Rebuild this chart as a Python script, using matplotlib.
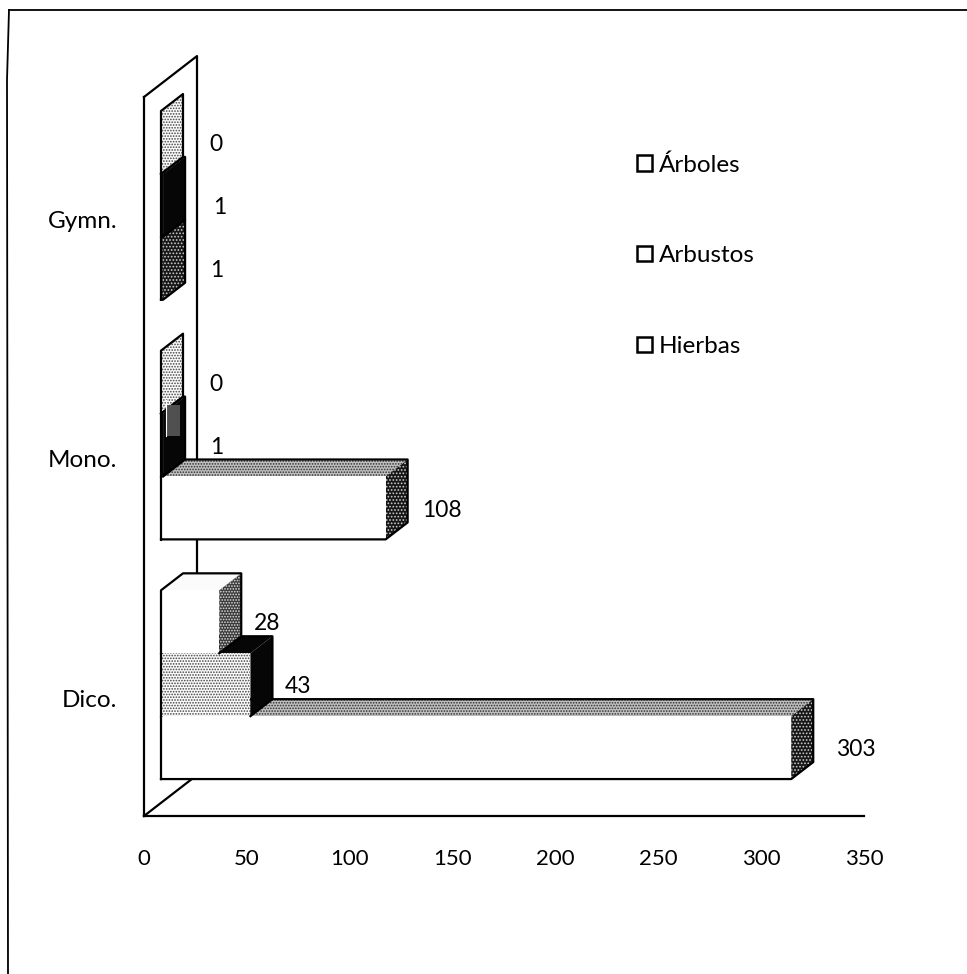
#!/usr/bin/env python3
import matplotlib
matplotlib.use('Agg')
import matplotlib.pyplot as plt
from matplotlib.patches import Polygon, Patch
from matplotlib.lines import Line2D

plt.rcParams['font.family'] = ['Lato', 'DejaVu Sans']
plt.rcParams['hatch.linewidth'] = 0.8

# Values
categories = ['Dico.', 'Mono.', 'Gymn.']
series_names = ['Árboles', 'Arbustos', 'Hierbas']
arboles = [28, 0, 0]
arbustos = [43, 1, 1]
hierbas = [303, 108, 1]
x_ticks = [0, 50, 100, 150, 200, 250, 300, 350]

# Label offset from the end of each front face, pixels, one list per series
label_dx_arboles = [35, 48, 48]
label_dx_arbustos = [34, 47, 50]
label_dx_hierbas = [45, 36, 47]

W, H = 967, 974
PX = 720 / 350.0           # pixels per x unit on the axis
PY = 240.0                 # pixels per category
LW = 1.6

# 3D look, in axis units
plane = 17 / PX            # front plane of the bars, away from the wall corner
x_scale = 2.08 / PX
depth_x, depth_y = 22 / PX, 17 / PY
wall_x, wall_y = 53 / PX, 41 / PY
group_base = 37 / PY
bar_h = 63 / PY

# (front, top, side), each (fill, speckle colour, hatch)
WHITE = ('white', None, None)
LIGHT = ('#fafafa', '#444444', '......')
MID = ('#c0c0c0', '#303030', '......')
DARK = ('#3a3a3a', '#e0e0e0', '......')
BLACK = ('#060606', None, None)
styles = {
    'Árboles': (WHITE, ('#fbfbfb', None, None), DARK),
    'Arbustos': (LIGHT, BLACK, BLACK),
    'Hierbas': (WHITE, MID, ('#161616', '#cccccc', '.....')),
}


def face(ax, pts, style, zorder):
    fill, speck, hatch = style
    ax.add_patch(Polygon(pts, closed=True, facecolor=fill, edgecolor=speck if speck else fill,
                         hatch=hatch, linewidth=0, zorder=zorder, clip_on=False))


def bar3d(ax, value, y0, name, zorder, lowest):
    front, top, side = styles[name]
    x0 = plane
    x1 = plane + value * x_scale
    y1 = y0 + bar_h
    xb, yb = x1 + depth_x, y1 + depth_y
    if value > 0:
        face(ax, [(x0, y1), (x0 + depth_x, yb), (xb, yb), (x1, y1)], top, zorder)
    # an empty bar only shows a pale end face
    face(ax, [(x1, y0), (xb, y0 + depth_y), (xb, yb), (x1, y1)], side if value > 0 else LIGHT, zorder)
    if value > 0:
        # a front this thin is only a sliver, it reads as part of the end face
        face(ax, [(x0, y0), (x1, y0), (x1, y1), (x0, y1)], front if value > 1 else side, zorder)
    # only the outer edges are inked, no lines between the faces
    xs = [x0, x0, x0 + depth_x, xb, xb, x1]
    ys = [y0, y1, yb, yb, y0 + depth_y, y0]
    if lowest:
        xs.append(x0)
        ys.append(y0)
    ax.plot(xs, ys, color='black', lw=LW, clip_on=False, zorder=zorder, solid_joinstyle='round')
    return x1, y0 + bar_h / 2


fig = plt.figure(figsize=(W / 100, H / 100), dpi=100)
ax = fig.add_axes([144 / W, (H - 816) / H, 720 / W, 719 / H])
ax.patch.set_visible(False)
ax.set_xlim(0, 350)
ax.set_ylim(0, 3)

ax.set_xticks(x_ticks)
ax.set_yticks([i + 0.49 for i in range(len(categories))])
ax.set_yticklabels(categories)
ax.tick_params(axis='x', length=0, pad=24, labelsize=16)
ax.tick_params(axis='y', length=0, pad=19, labelsize=17.5)
for s in ['top', 'right']:
    ax.spines[s].set_visible(False)
for s in ['left', 'bottom']:
    ax.spines[s].set_linewidth(LW)

# Back wall and floor edge
ax.plot([0, wall_x, wall_x], [3, 3 + wall_y, wall_y], color='black', lw=LW, clip_on=False, zorder=1)
ax.plot([0, wall_x], [0, wall_y], color='black', lw=LW, clip_on=False, zorder=1)

for i, cat in enumerate(categories):
    rows = [(hierbas[i], 'Hierbas', label_dx_hierbas[i]),
            (arbustos[i], 'Arbustos', label_dx_arbustos[i]),
            (arboles[i], 'Árboles', label_dx_arboles[i])]
    for j, (val, name, dx) in enumerate(rows):
        y0 = i + group_base + j * bar_h
        xe, yc = bar3d(ax, val, y0, name, 2 + j, j == 0)
        ax.annotate(str(val), (xe, yc), xytext=(dx * 0.72, -1.5), textcoords='offset points',
                    ha='left', va='center', fontsize=16.5, color='black', zorder=10, annotation_clip=False)

# Grey smudge on the Mono. Arbustos end face
y_smudge = 1 + group_base + bar_h
ax.add_patch(Polygon([(plane + 2.4, y_smudge + 0.17), (plane + 9.2, y_smudge + 0.17),
                      (plane + 9.2, y_smudge + 0.30), (plane + 2.4, y_smudge + 0.30)],
                     closed=True, facecolor='#505050', edgecolor='none', zorder=6))
ax.plot([plane + 2.2, plane + 2.2], [y_smudge + 0.17, y_smudge + 0.32], color='white', lw=0.8, zorder=6)

handles = [Patch(facecolor='white', edgecolor='black', linewidth=1.8) for n in series_names]
ax.legend(handles, series_names, loc='upper left', bbox_to_anchor=((637 - 144) / 720, (816 - 154) / 719),
          frameon=False, fontsize=17.5, handlelength=0.6, handleheight=0.6, handletextpad=0.3,
          labelspacing=2.87, borderpad=0, borderaxespad=0)

# Scan frame round the chart
fig.add_artist(Line2D([9 / W, 7 / W, 8 / W], [1 - 10 / H, 1 - 80 / H, 0], color='black', lw=1.3))
fig.add_artist(Line2D([9 / W, 1], [1 - 10 / H, 1 - 10 / H], color='black', lw=1.3))

fig.savefig('out.png', dpi=100)
